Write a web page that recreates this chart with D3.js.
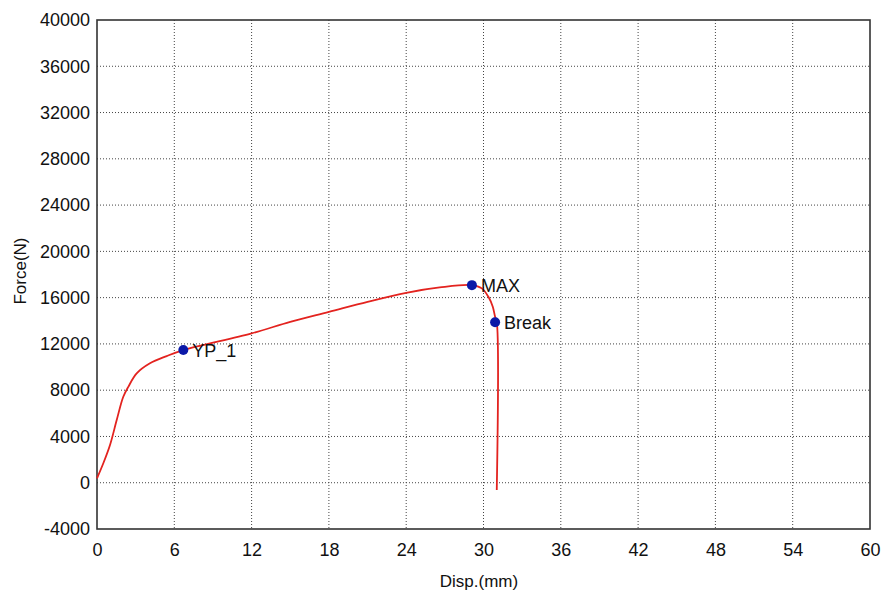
<!DOCTYPE html>
<html>
<head>
<meta charset="utf-8">
<script src="https://cdn.jsdelivr.net/npm/d3@7"></script>
<style>
  body { margin: 0; background: #fff; }
  text { font-family: Arial, "Liberation Sans", sans-serif; }
</style>
</head>
<body>
<div id="chart"></div>
<script>
// curve (mm, N)
var disp = [0, 0.49, 1.01, 1.53, 2.04, 2.43, 3.08, 4.11, 5.41, 6.7, 12.0, 15.0, 18.0, 21.0, 24.0, 26.6, 29.1, 29.87, 30.38, 30.72, 30.9, 31.03, 31.03];
var force = [380, 1680, 3260, 5420, 7430, 8290, 9450, 10320, 10950, 11470, 12910, 13910, 14770, 15640, 16420, 16880, 17080, 16800, 16070, 15210, 14340, 13880, -630];

var markNames = ["YP_1", "MAX", "Break"];
var markDisp = [6.7, 29.1, 30.9];
var markForce = [11470, 17080, 13880];

var xTicks = [0, 6, 12, 18, 24, 30, 36, 42, 48, 54, 60];
var yTicks = [-4000, 0, 4000, 8000, 12000, 16000, 20000, 24000, 28000, 32000, 36000, 40000];

var margin = { top: 20, right: 14, bottom: 68, left: 97 },
    width = 884 - margin.left - margin.right,
    height = 597 - margin.top - margin.bottom;

var svg = d3.select("#chart")
    .append("svg")
    .attr("width", 884)
    .attr("height", 597);

var g = svg.append("g").attr("transform", "translate(" + margin.left + "," + margin.top + ")");

var x = d3.scaleLinear().domain([0, 60]).range([0, width]),
    y = d3.scaleLinear().domain([-4000, 40000]).range([height, 0]);

// dotted grid
g.append("g")
    .selectAll("line")
    .data(xTicks.slice(1, -1))
    .enter().append("line")
    .attr("x1", function (d) { return x(d); })
    .attr("x2", function (d) { return x(d); })
    .attr("y1", 0).attr("y2", height)
    .attr("stroke", "#444").attr("stroke-width", 1)
    .attr("stroke-dasharray", "1,2");

g.append("g")
    .selectAll("line")
    .data(yTicks.slice(1, -1))
    .enter().append("line")
    .attr("y1", function (d) { return y(d); })
    .attr("y2", function (d) { return y(d); })
    .attr("x1", 0).attr("x2", width)
    .attr("stroke", "#444").attr("stroke-width", 1)
    .attr("stroke-dasharray", "1,2");

// frame
g.append("rect")
    .attr("width", width).attr("height", height)
    .attr("fill", "none").attr("stroke", "#333").attr("stroke-width", 1.6);

var xAxis = g.append("g")
    .attr("transform", "translate(0," + height + ")")
    .call(d3.axisBottom(x).tickValues(xTicks).tickSize(0).tickPadding(14).tickFormat(function (d) { return String(d); }));
xAxis.select(".domain").remove();
xAxis.selectAll("text").attr("font-size", 18).attr("fill", "#111").attr("font-family", "Arial, 'Liberation Sans', sans-serif");

var yAxis = g.append("g")
    .call(d3.axisLeft(y).tickValues(yTicks).tickSize(0).tickPadding(7).tickFormat(function (d) { return String(d); }));
yAxis.select(".domain").remove();
yAxis.selectAll("text").attr("font-size", 18).attr("fill", "#111").attr("font-family", "Arial, 'Liberation Sans', sans-serif");

svg.append("text")
    .attr("x", 479)
    .attr("y", 587)
    .attr("text-anchor", "middle")
    .attr("font-size", 17).attr("fill", "#111")
    .text("Disp.(mm)");

svg.append("text")
    .attr("transform", "translate(26," + 271 + ") rotate(-90)")
    .attr("text-anchor", "middle")
    .attr("font-size", 17).attr("fill", "#111")
    .text("Force(N)");

g.append("path")
    .datum(force)
    .attr("fill", "none")
    .attr("stroke", "#e3231f")
    .attr("stroke-width", 1.8)
    .attr("d", d3.line()
        .curve(d3.curveCatmullRom)
        .x(function (d, i) { return x(disp[i]); })
        .y(function (d, i) { return y(force[i]); }));

var marks = g.selectAll(".mark")
    .data(markNames)
    .enter().append("g")
    .attr("transform", function (d, i) { return "translate(" + x(markDisp[i]) + "," + y(markForce[i]) + ")"; });

marks.append("circle")
    .attr("r", 5)
    .attr("fill", "#0b19a8");

marks.append("text")
    .attr("x", 9)
    .attr("y", 6.5)
    .attr("font-size", 18).attr("fill", "#111")
    .text(function (d) { return d; });
</script>
</body>
</html>
